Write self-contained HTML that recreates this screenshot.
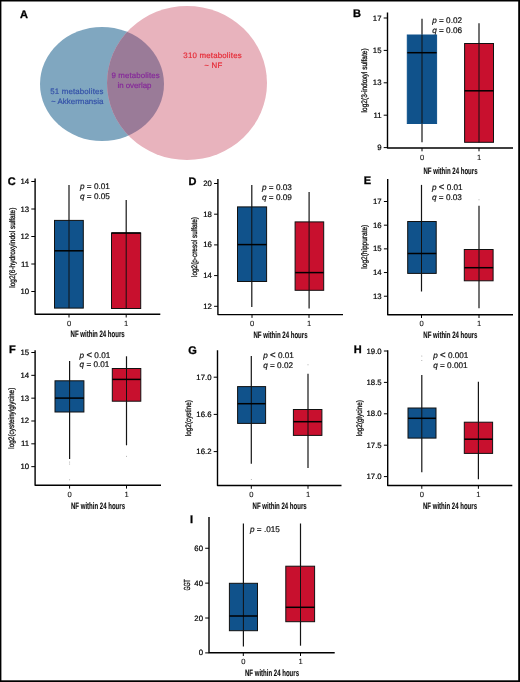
<!DOCTYPE html>
<html><head><meta charset="utf-8"><style>
html,body{margin:0;padding:0;background:#fff;width:520px;height:682px;overflow:hidden;}
svg text{font-family:"Liberation Sans", sans-serif;text-rendering:geometricPrecision;}
</style></head><body>
<svg width="520" height="682" viewBox="0 0 520 682" style="display:block;will-change:transform">
<g font-family='"Liberation Sans", sans-serif'>
<rect x="0" y="0" width="520" height="682" fill="#fff"/>
<rect x="0" y="0" width="520" height="1.5" fill="#000"/><rect x="0" y="0" width="1.4" height="682" fill="#000"/><rect x="518.2" y="0" width="1.8" height="682" fill="#000"/><rect x="0" y="680.3" width="520" height="1.7" fill="#000"/>
<defs><clipPath id="cb"><ellipse cx="102" cy="84" rx="62" ry="57"/></clipPath></defs>
<ellipse cx="102" cy="84" rx="62" ry="57" fill="#80a7c0"/>
<ellipse cx="187" cy="83" rx="80" ry="77" fill="#e8b3bd"/>
<ellipse cx="187" cy="83" rx="80" ry="77" fill="#9a7b98" clip-path="url(#cb)"/>
<text x="20" y="18.2" font-size="11" text-anchor="start" font-weight="bold" fill="#000"  stroke="#000" stroke-width="0.3" style="">A</text>
<text x="183.35" y="57.7" font-size="7.9" fill="#e62a36" stroke="#e62a36" stroke-width="0.18" textLength="58.3" lengthAdjust="spacing">310 metabolites</text>
<text x="204.15" y="67.7" font-size="7.9" fill="#e62a36" stroke="#e62a36" stroke-width="0.18" textLength="18.1" lengthAdjust="spacing">~ NF</text>
<text x="50.35" y="94.2" font-size="7.9" fill="#3350a8" stroke="#3350a8" stroke-width="0.18" textLength="53.1" lengthAdjust="spacing">51 metabolites</text>
<text x="51.05" y="104.0" font-size="7.9" fill="#3350a8" stroke="#3350a8" stroke-width="0.18" textLength="52.4" lengthAdjust="spacing">~ Akkermansia</text>
<text x="111.45" y="77.8" font-size="7.9" fill="#86299a" stroke="#86299a" stroke-width="0.18" textLength="48.2" lengthAdjust="spacing">9 metabolites</text>
<text x="117.45" y="87.6" font-size="7.9" fill="#86299a" stroke="#86299a" stroke-width="0.18" textLength="34.0" lengthAdjust="spacing">in overlap</text>
<text x="353" y="17.4" font-size="11" text-anchor="start" font-weight="bold" fill="#000"  stroke="#000" stroke-width="0.3" style="">B</text>
<path d="M387.5 12.6 L387.5 148 L513 148" fill="none" stroke="#000" stroke-width="1.4" stroke-linejoin="round"/>
<line x1="383.7" y1="18.0" x2="387.5" y2="18.0" stroke="#000" stroke-width="1"/>
<text x="381.5" y="20.5" font-size="7.8" text-anchor="end" font-weight="normal" fill="#000"  stroke="#000" stroke-width="0.2" style="">17</text>
<line x1="383.7" y1="50.4" x2="387.5" y2="50.4" stroke="#000" stroke-width="1"/>
<text x="381.5" y="52.9" font-size="7.8" text-anchor="end" font-weight="normal" fill="#000"  stroke="#000" stroke-width="0.2" style="">15</text>
<line x1="383.7" y1="82.8" x2="387.5" y2="82.8" stroke="#000" stroke-width="1"/>
<text x="381.5" y="85.3" font-size="7.8" text-anchor="end" font-weight="normal" fill="#000"  stroke="#000" stroke-width="0.2" style="">13</text>
<line x1="383.7" y1="115.19999999999999" x2="387.5" y2="115.19999999999999" stroke="#000" stroke-width="1"/>
<text x="381.5" y="117.7" font-size="7.8" text-anchor="end" font-weight="normal" fill="#000"  stroke="#000" stroke-width="0.2" style="">11</text>
<line x1="383.7" y1="147.6" x2="387.5" y2="147.6" stroke="#000" stroke-width="1"/>
<text x="381.5" y="150.1" font-size="7.8" text-anchor="end" font-weight="normal" fill="#000"  stroke="#000" stroke-width="0.2" style="">9</text>
<line x1="422" y1="148" x2="422" y2="151.3" stroke="#000" stroke-width="1"/>
<text x="422" y="159.6" font-size="7.6" text-anchor="middle" font-weight="normal" fill="#111"  stroke="#111" stroke-width="0.1" style="">0</text>
<line x1="479" y1="148" x2="479" y2="151.3" stroke="#000" stroke-width="1"/>
<text x="479" y="159.6" font-size="7.6" text-anchor="middle" font-weight="normal" fill="#111"  stroke="#111" stroke-width="0.1" style="">1</text>
<text transform="translate(367 80.4) rotate(-90)" x="0" y="0" font-size="8.0" text-anchor="middle" fill="#111" stroke="#111" stroke-width="0.3" textLength="64" lengthAdjust="spacingAndGlyphs">log2(3-indoxyl sulfate)</text>
<text x="450.5" y="173.5" font-size="9.2" text-anchor="middle" font-weight="bold" fill="#111" textLength="54" lengthAdjust="spacingAndGlyphs"  stroke="#111" stroke-width="0.15" style="">NF within 24 hours</text>
<text x="432.2" y="22.8" font-size="8.2" fill="#111" stroke="#111" stroke-width="0.2"><tspan font-style="italic">p</tspan> = 0.02</text>
<text x="432.2" y="32.7" font-size="8.2" fill="#111" stroke="#111" stroke-width="0.2"><tspan font-style="italic">q</tspan> = 0.06</text>
<line x1="422" y1="18.8" x2="422" y2="142.3" stroke="#151515" stroke-width="1.2"/>
<rect x="407.3" y="35" width="29.3" height="88.5" fill="#10528b" stroke="#10528b" stroke-width="1"/>
<line x1="422" y1="35" x2="422" y2="123.5" stroke="#111" stroke-width="1"/>
<line x1="407.3" y1="52.7" x2="436.6" y2="52.7" stroke="#000" stroke-width="1.5"/>
<line x1="479" y1="23.2" x2="479" y2="142.3" stroke="#151515" stroke-width="1.2"/>
<rect x="464.6" y="43.5" width="28.9" height="98.8" fill="#c8102e" stroke="#111" stroke-width="1"/>
<line x1="479" y1="43.5" x2="479" y2="142.3" stroke="#111" stroke-width="1"/>
<line x1="464.6" y1="90.8" x2="493.5" y2="90.8" stroke="#000" stroke-width="1.5"/>
<text x="7.8" y="184.6" font-size="11" text-anchor="start" font-weight="bold" fill="#000"  stroke="#000" stroke-width="0.3" style="">C</text>
<path d="M35.1 178.4 L35.1 314.2 L160.3 314.2" fill="none" stroke="#000" stroke-width="1.4" stroke-linejoin="round"/>
<line x1="31.3" y1="181.5" x2="35.1" y2="181.5" stroke="#000" stroke-width="1"/>
<text x="29.1" y="184.0" font-size="7.8" text-anchor="end" font-weight="normal" fill="#000"  stroke="#000" stroke-width="0.2" style="">14</text>
<line x1="31.3" y1="209.0" x2="35.1" y2="209.0" stroke="#000" stroke-width="1"/>
<text x="29.1" y="211.5" font-size="7.8" text-anchor="end" font-weight="normal" fill="#000"  stroke="#000" stroke-width="0.2" style="">13</text>
<line x1="31.3" y1="236.5" x2="35.1" y2="236.5" stroke="#000" stroke-width="1"/>
<text x="29.1" y="239.0" font-size="7.8" text-anchor="end" font-weight="normal" fill="#000"  stroke="#000" stroke-width="0.2" style="">12</text>
<line x1="31.3" y1="264.0" x2="35.1" y2="264.0" stroke="#000" stroke-width="1"/>
<text x="29.1" y="266.5" font-size="7.8" text-anchor="end" font-weight="normal" fill="#000"  stroke="#000" stroke-width="0.2" style="">11</text>
<line x1="31.3" y1="291.5" x2="35.1" y2="291.5" stroke="#000" stroke-width="1"/>
<text x="29.1" y="294.0" font-size="7.8" text-anchor="end" font-weight="normal" fill="#000"  stroke="#000" stroke-width="0.2" style="">10</text>
<line x1="69" y1="314.2" x2="69" y2="317.5" stroke="#000" stroke-width="1"/>
<text x="69" y="325.8" font-size="7.6" text-anchor="middle" font-weight="normal" fill="#111"  stroke="#111" stroke-width="0.1" style="">0</text>
<line x1="126.2" y1="314.2" x2="126.2" y2="317.5" stroke="#000" stroke-width="1"/>
<text x="126.2" y="325.8" font-size="7.6" text-anchor="middle" font-weight="normal" fill="#111"  stroke="#111" stroke-width="0.1" style="">1</text>
<text transform="translate(14.5 247.7) rotate(-90)" x="0" y="0" font-size="8.0" text-anchor="middle" fill="#111" stroke="#111" stroke-width="0.3" textLength="80" lengthAdjust="spacingAndGlyphs">log2(6-hydroxyindol sulfate)</text>
<text x="97.6" y="337.0" font-size="9.2" text-anchor="middle" font-weight="bold" fill="#111" textLength="54" lengthAdjust="spacingAndGlyphs"  stroke="#111" stroke-width="0.15" style="">NF within 24 hours</text>
<text x="80" y="189.4" font-size="8.2" fill="#111" stroke="#111" stroke-width="0.2"><tspan font-style="italic">p</tspan> = 0.01</text>
<text x="80" y="199.3" font-size="8.2" fill="#111" stroke="#111" stroke-width="0.2"><tspan font-style="italic">q</tspan> = 0.05</text>
<line x1="69" y1="185" x2="69" y2="308.1" stroke="#151515" stroke-width="1.2"/>
<rect x="54.5" y="220.4" width="28.8" height="87.7" fill="#10528b" stroke="#111" stroke-width="1"/>
<line x1="69" y1="220.4" x2="69" y2="308.1" stroke="#111" stroke-width="1"/>
<line x1="54.5" y1="250.8" x2="83.3" y2="250.8" stroke="#000" stroke-width="1.5"/>
<line x1="126.2" y1="200" x2="126.2" y2="308.5" stroke="#151515" stroke-width="1.2"/>
<rect x="111.5" y="233" width="29.2" height="75.5" fill="#c8102e" stroke="#111" stroke-width="1"/>
<line x1="126.2" y1="233" x2="126.2" y2="308.5" stroke="#111" stroke-width="1"/>
<line x1="111.5" y1="233" x2="140.7" y2="233" stroke="#000" stroke-width="1.5"/>
<text x="188.5" y="184.6" font-size="11" text-anchor="start" font-weight="bold" fill="#000"  stroke="#000" stroke-width="0.3" style="">D</text>
<path d="M217.9 178.9 L217.9 314.6 L343 314.6" fill="none" stroke="#000" stroke-width="1.4" stroke-linejoin="round"/>
<line x1="214.1" y1="183.5" x2="217.9" y2="183.5" stroke="#000" stroke-width="1"/>
<text x="211.9" y="186.0" font-size="7.8" text-anchor="end" font-weight="normal" fill="#000"  stroke="#000" stroke-width="0.2" style="">20</text>
<line x1="214.1" y1="214.2" x2="217.9" y2="214.2" stroke="#000" stroke-width="1"/>
<text x="211.9" y="216.7" font-size="7.8" text-anchor="end" font-weight="normal" fill="#000"  stroke="#000" stroke-width="0.2" style="">18</text>
<line x1="214.1" y1="244.9" x2="217.9" y2="244.9" stroke="#000" stroke-width="1"/>
<text x="211.9" y="247.4" font-size="7.8" text-anchor="end" font-weight="normal" fill="#000"  stroke="#000" stroke-width="0.2" style="">16</text>
<line x1="214.1" y1="275.6" x2="217.9" y2="275.6" stroke="#000" stroke-width="1"/>
<text x="211.9" y="278.1" font-size="7.8" text-anchor="end" font-weight="normal" fill="#000"  stroke="#000" stroke-width="0.2" style="">14</text>
<line x1="214.1" y1="306.3" x2="217.9" y2="306.3" stroke="#000" stroke-width="1"/>
<text x="211.9" y="308.8" font-size="7.8" text-anchor="end" font-weight="normal" fill="#000"  stroke="#000" stroke-width="0.2" style="">12</text>
<line x1="252" y1="314.6" x2="252" y2="317.90000000000003" stroke="#000" stroke-width="1"/>
<text x="252" y="326.2" font-size="7.6" text-anchor="middle" font-weight="normal" fill="#111"  stroke="#111" stroke-width="0.1" style="">0</text>
<line x1="309" y1="314.6" x2="309" y2="317.90000000000003" stroke="#000" stroke-width="1"/>
<text x="309" y="326.2" font-size="7.6" text-anchor="middle" font-weight="normal" fill="#111"  stroke="#111" stroke-width="0.1" style="">1</text>
<text transform="translate(196.9 247) rotate(-90)" x="0" y="0" font-size="8.0" text-anchor="middle" fill="#111" stroke="#111" stroke-width="0.3" textLength="60" lengthAdjust="spacingAndGlyphs">log2(p-cresol sulfate)</text>
<text x="280.5" y="338.2" font-size="9.2" text-anchor="middle" font-weight="bold" fill="#111" textLength="54" lengthAdjust="spacingAndGlyphs"  stroke="#111" stroke-width="0.15" style="">NF within 24 hours</text>
<text x="262" y="189.6" font-size="8.2" fill="#111" stroke="#111" stroke-width="0.2"><tspan font-style="italic">p</tspan> = 0.03</text>
<text x="262" y="199.5" font-size="8.2" fill="#111" stroke="#111" stroke-width="0.2"><tspan font-style="italic">q</tspan> = 0.09</text>
<line x1="251.8" y1="184.9" x2="251.8" y2="306.9" stroke="#151515" stroke-width="1.2"/>
<rect x="237.5" y="206.9" width="29.1" height="74.6" fill="#10528b" stroke="#111" stroke-width="1"/>
<line x1="251.8" y1="206.9" x2="251.8" y2="281.5" stroke="#111" stroke-width="1"/>
<line x1="237.5" y1="244.6" x2="266.6" y2="244.6" stroke="#000" stroke-width="1.5"/>
<line x1="309.1" y1="192" x2="309.1" y2="308.5" stroke="#151515" stroke-width="1.2"/>
<rect x="295.1" y="221.9" width="28.6" height="68.4" fill="#c8102e" stroke="#111" stroke-width="1"/>
<line x1="309.1" y1="221.9" x2="309.1" y2="290.3" stroke="#111" stroke-width="1"/>
<line x1="295.1" y1="272.6" x2="323.7" y2="272.6" stroke="#000" stroke-width="1.5"/>
<text x="363.8" y="184.20000000000002" font-size="11" text-anchor="start" font-weight="bold" fill="#000"  stroke="#000" stroke-width="0.3" style="">E</text>
<path d="M387.7 178.9 L387.7 314.7 L513 314.7" fill="none" stroke="#000" stroke-width="1.4" stroke-linejoin="round"/>
<line x1="383.9" y1="201.5" x2="387.7" y2="201.5" stroke="#000" stroke-width="1"/>
<text x="381.7" y="204.0" font-size="7.8" text-anchor="end" font-weight="normal" fill="#000"  stroke="#000" stroke-width="0.2" style="">17</text>
<line x1="383.9" y1="225.18" x2="387.7" y2="225.18" stroke="#000" stroke-width="1"/>
<text x="381.7" y="227.68" font-size="7.8" text-anchor="end" font-weight="normal" fill="#000"  stroke="#000" stroke-width="0.2" style="">16</text>
<line x1="383.9" y1="248.86" x2="387.7" y2="248.86" stroke="#000" stroke-width="1"/>
<text x="381.7" y="251.36" font-size="7.8" text-anchor="end" font-weight="normal" fill="#000"  stroke="#000" stroke-width="0.2" style="">15</text>
<line x1="383.9" y1="272.53999999999996" x2="387.7" y2="272.53999999999996" stroke="#000" stroke-width="1"/>
<text x="381.7" y="275.04" font-size="7.8" text-anchor="end" font-weight="normal" fill="#000"  stroke="#000" stroke-width="0.2" style="">14</text>
<line x1="383.9" y1="296.22" x2="387.7" y2="296.22" stroke="#000" stroke-width="1"/>
<text x="381.7" y="298.72" font-size="7.8" text-anchor="end" font-weight="normal" fill="#000"  stroke="#000" stroke-width="0.2" style="">13</text>
<line x1="421.5" y1="314.7" x2="421.5" y2="318.0" stroke="#000" stroke-width="1"/>
<text x="421.5" y="326.3" font-size="7.6" text-anchor="middle" font-weight="normal" fill="#111"  stroke="#111" stroke-width="0.1" style="">0</text>
<line x1="479" y1="314.7" x2="479" y2="318.0" stroke="#000" stroke-width="1"/>
<text x="479" y="326.3" font-size="7.6" text-anchor="middle" font-weight="normal" fill="#111"  stroke="#111" stroke-width="0.1" style="">1</text>
<text transform="translate(367 246.7) rotate(-90)" x="0" y="0" font-size="8.0" text-anchor="middle" fill="#111" stroke="#111" stroke-width="0.3" textLength="44" lengthAdjust="spacingAndGlyphs">log2(hippurate)</text>
<text x="450.3" y="338.2" font-size="9.2" text-anchor="middle" font-weight="bold" fill="#111" textLength="54" lengthAdjust="spacingAndGlyphs"  stroke="#111" stroke-width="0.15" style="">NF within 24 hours</text>
<text x="432" y="189.9" font-size="8.2" fill="#111" stroke="#111" stroke-width="0.2"><tspan font-style="italic">p</tspan> <tspan font-size="9.6" dy="0.4">&lt;</tspan><tspan dy="-0.4"> 0.01</tspan></text>
<text x="432" y="199.8" font-size="8.2" fill="#111" stroke="#111" stroke-width="0.2"><tspan font-style="italic">q</tspan> = 0.03</text>
<line x1="421.5" y1="184.9" x2="421.5" y2="291.5" stroke="#151515" stroke-width="1.2"/>
<rect x="407.7" y="221.5" width="28.5" height="51.9" fill="#10528b" stroke="#111" stroke-width="1"/>
<line x1="421.5" y1="221.5" x2="421.5" y2="273.4" stroke="#111" stroke-width="1"/>
<line x1="407.7" y1="253.5" x2="436.2" y2="253.5" stroke="#000" stroke-width="1.5"/>
<line x1="479" y1="205.8" x2="479" y2="308.2" stroke="#151515" stroke-width="1.2"/>
<rect x="464.3" y="249.5" width="28.8" height="31.3" fill="#c8102e" stroke="#111" stroke-width="1"/>
<line x1="479" y1="249.5" x2="479" y2="280.8" stroke="#111" stroke-width="1"/>
<line x1="464.3" y1="267.7" x2="493.1" y2="267.7" stroke="#000" stroke-width="1.5"/>
<circle cx="479" cy="199.7" r="0.5" fill="#999"/>
<text x="9" y="353.0" font-size="11" text-anchor="start" font-weight="bold" fill="#000"  stroke="#000" stroke-width="0.3" style="">F</text>
<path d="M35.1 350.2 L35.1 485.3 L161 485.3" fill="none" stroke="#000" stroke-width="1.4" stroke-linejoin="round"/>
<line x1="31.3" y1="352.5" x2="35.1" y2="352.5" stroke="#000" stroke-width="1"/>
<text x="29.1" y="355.0" font-size="7.8" text-anchor="end" font-weight="normal" fill="#000"  stroke="#000" stroke-width="0.2" style="">15</text>
<line x1="31.3" y1="375.33" x2="35.1" y2="375.33" stroke="#000" stroke-width="1"/>
<text x="29.1" y="377.83" font-size="7.8" text-anchor="end" font-weight="normal" fill="#000"  stroke="#000" stroke-width="0.2" style="">14</text>
<line x1="31.3" y1="398.15999999999997" x2="35.1" y2="398.15999999999997" stroke="#000" stroke-width="1"/>
<text x="29.1" y="400.66" font-size="7.8" text-anchor="end" font-weight="normal" fill="#000"  stroke="#000" stroke-width="0.2" style="">13</text>
<line x1="31.3" y1="420.99" x2="35.1" y2="420.99" stroke="#000" stroke-width="1"/>
<text x="29.1" y="423.49" font-size="7.8" text-anchor="end" font-weight="normal" fill="#000"  stroke="#000" stroke-width="0.2" style="">12</text>
<line x1="31.3" y1="443.82" x2="35.1" y2="443.82" stroke="#000" stroke-width="1"/>
<text x="29.1" y="446.32" font-size="7.8" text-anchor="end" font-weight="normal" fill="#000"  stroke="#000" stroke-width="0.2" style="">11</text>
<line x1="31.3" y1="466.65" x2="35.1" y2="466.65" stroke="#000" stroke-width="1"/>
<text x="29.1" y="469.15" font-size="7.8" text-anchor="end" font-weight="normal" fill="#000"  stroke="#000" stroke-width="0.2" style="">10</text>
<line x1="69.6" y1="485.3" x2="69.6" y2="488.6" stroke="#000" stroke-width="1"/>
<text x="69.6" y="496.9" font-size="7.6" text-anchor="middle" font-weight="normal" fill="#111"  stroke="#111" stroke-width="0.1" style="">0</text>
<line x1="126.5" y1="485.3" x2="126.5" y2="488.6" stroke="#000" stroke-width="1"/>
<text x="126.5" y="496.9" font-size="7.6" text-anchor="middle" font-weight="normal" fill="#111"  stroke="#111" stroke-width="0.1" style="">1</text>
<text transform="translate(13.6 418.2) rotate(-90)" x="0" y="0" font-size="8.0" text-anchor="middle" fill="#111" stroke="#111" stroke-width="0.3" textLength="61" lengthAdjust="spacingAndGlyphs">log2(cysteinylglycine)</text>
<text x="98" y="508.5" font-size="9.2" text-anchor="middle" font-weight="bold" fill="#111" textLength="54" lengthAdjust="spacingAndGlyphs"  stroke="#111" stroke-width="0.15" style="">NF within 24 hours</text>
<text x="79.6" y="357.5" font-size="8.2" fill="#111" stroke="#111" stroke-width="0.2"><tspan font-style="italic">p</tspan> <tspan font-size="9.6" dy="0.4">&lt;</tspan><tspan dy="-0.4"> 0.01</tspan></text>
<text x="79.6" y="367.4" font-size="8.2" fill="#111" stroke="#111" stroke-width="0.2"><tspan font-style="italic">q</tspan> = 0.01</text>
<line x1="69.6" y1="361" x2="69.6" y2="459" stroke="#151515" stroke-width="1.2"/>
<rect x="55" y="380.8" width="28.9" height="31.2" fill="#10528b" stroke="#111" stroke-width="1"/>
<line x1="69.6" y1="380.8" x2="69.6" y2="412" stroke="#111" stroke-width="1"/>
<line x1="55" y1="398.1" x2="83.9" y2="398.1" stroke="#000" stroke-width="1.5"/>
<line x1="126.5" y1="356.3" x2="126.5" y2="445.3" stroke="#151515" stroke-width="1.2"/>
<rect x="112.3" y="368.5" width="28.5" height="32.7" fill="#c8102e" stroke="#111" stroke-width="1"/>
<line x1="126.5" y1="368.5" x2="126.5" y2="401.2" stroke="#111" stroke-width="1"/>
<line x1="112.3" y1="379.4" x2="140.8" y2="379.4" stroke="#000" stroke-width="1.5"/>
<circle cx="69.6" cy="462" r="0.5" fill="#999"/>
<circle cx="69.6" cy="464" r="0.5" fill="#999"/>
<circle cx="69.6" cy="479.7" r="0.5" fill="#999"/>
<circle cx="126.5" cy="456.2" r="0.5" fill="#999"/>
<text x="188.3" y="353.59999999999997" font-size="11" text-anchor="start" font-weight="bold" fill="#000"  stroke="#000" stroke-width="0.3" style="">G</text>
<path d="M217.5 350.2 L217.5 485.5 L341.5 485.5" fill="none" stroke="#000" stroke-width="1.4" stroke-linejoin="round"/>
<line x1="213.7" y1="377.2" x2="217.5" y2="377.2" stroke="#000" stroke-width="1"/>
<text x="211.5" y="379.7" font-size="7.8" text-anchor="end" font-weight="normal" fill="#000"  stroke="#000" stroke-width="0.2" style="">17.0</text>
<line x1="213.7" y1="414.39999999999986" x2="217.5" y2="414.39999999999986" stroke="#000" stroke-width="1"/>
<text x="211.5" y="416.9" font-size="7.8" text-anchor="end" font-weight="normal" fill="#000"  stroke="#000" stroke-width="0.2" style="">16.6</text>
<line x1="213.7" y1="451.6" x2="217.5" y2="451.6" stroke="#000" stroke-width="1"/>
<text x="211.5" y="454.1" font-size="7.8" text-anchor="end" font-weight="normal" fill="#000"  stroke="#000" stroke-width="0.2" style="">16.2</text>
<line x1="251.3" y1="485.5" x2="251.3" y2="488.8" stroke="#000" stroke-width="1"/>
<text x="251.3" y="497.1" font-size="7.6" text-anchor="middle" font-weight="normal" fill="#111"  stroke="#111" stroke-width="0.1" style="">0</text>
<line x1="308" y1="485.5" x2="308" y2="488.8" stroke="#000" stroke-width="1"/>
<text x="308" y="497.1" font-size="7.6" text-anchor="middle" font-weight="normal" fill="#111"  stroke="#111" stroke-width="0.1" style="">1</text>
<text transform="translate(191 418.1) rotate(-90)" x="0" y="0" font-size="8.0" text-anchor="middle" fill="#111" stroke="#111" stroke-width="0.3" textLength="36" lengthAdjust="spacingAndGlyphs">log2(cystine)</text>
<text x="279.6" y="508.8" font-size="9.2" text-anchor="middle" font-weight="bold" fill="#111" textLength="54" lengthAdjust="spacingAndGlyphs"  stroke="#111" stroke-width="0.15" style="">NF within 24 hours</text>
<text x="263.2" y="357.6" font-size="8.2" fill="#111" stroke="#111" stroke-width="0.2"><tspan font-style="italic">p</tspan> <tspan font-size="9.6" dy="0.4">&lt;</tspan><tspan dy="-0.4"> 0.01</tspan></text>
<text x="263.2" y="367.5" font-size="8.2" fill="#111" stroke="#111" stroke-width="0.2"><tspan font-style="italic">q</tspan> = 0.02</text>
<line x1="251.3" y1="356.1" x2="251.3" y2="463.7" stroke="#151515" stroke-width="1.2"/>
<rect x="237.6" y="386.6" width="28.0" height="36.8" fill="#10528b" stroke="#111" stroke-width="1"/>
<line x1="251.3" y1="386.6" x2="251.3" y2="423.4" stroke="#111" stroke-width="1"/>
<line x1="237.6" y1="403.7" x2="265.6" y2="403.7" stroke="#000" stroke-width="1.5"/>
<line x1="308" y1="373.8" x2="308" y2="468" stroke="#151515" stroke-width="1.2"/>
<rect x="293.4" y="409.5" width="28.5" height="25.9" fill="#c8102e" stroke="#111" stroke-width="1"/>
<line x1="308" y1="409.5" x2="308" y2="435.4" stroke="#111" stroke-width="1"/>
<line x1="293.4" y1="421.7" x2="321.9" y2="421.7" stroke="#000" stroke-width="1.5"/>
<circle cx="251.3" cy="479.6" r="0.5" fill="#999"/>
<circle cx="308" cy="364.7" r="0.5" fill="#999"/>
<text x="353.8" y="353.0" font-size="11" text-anchor="start" font-weight="bold" fill="#000"  stroke="#000" stroke-width="0.3" style="">H</text>
<path d="M387.7 350.2 L387.7 485.5 L512.3 485.5" fill="none" stroke="#000" stroke-width="1.4" stroke-linejoin="round"/>
<line x1="383.9" y1="351.0" x2="387.7" y2="351.0" stroke="#000" stroke-width="1"/>
<text x="381.7" y="353.5" font-size="7.8" text-anchor="end" font-weight="normal" fill="#000"  stroke="#000" stroke-width="0.2" style="">19.0</text>
<line x1="383.9" y1="382.4" x2="387.7" y2="382.4" stroke="#000" stroke-width="1"/>
<text x="381.7" y="384.9" font-size="7.8" text-anchor="end" font-weight="normal" fill="#000"  stroke="#000" stroke-width="0.2" style="">18.5</text>
<line x1="383.9" y1="413.8" x2="387.7" y2="413.8" stroke="#000" stroke-width="1"/>
<text x="381.7" y="416.3" font-size="7.8" text-anchor="end" font-weight="normal" fill="#000"  stroke="#000" stroke-width="0.2" style="">18.0</text>
<line x1="383.9" y1="445.2" x2="387.7" y2="445.2" stroke="#000" stroke-width="1"/>
<text x="381.7" y="447.7" font-size="7.8" text-anchor="end" font-weight="normal" fill="#000"  stroke="#000" stroke-width="0.2" style="">17.5</text>
<line x1="383.9" y1="476.6" x2="387.7" y2="476.6" stroke="#000" stroke-width="1"/>
<text x="381.7" y="479.1" font-size="7.8" text-anchor="end" font-weight="normal" fill="#000"  stroke="#000" stroke-width="0.2" style="">17.0</text>
<line x1="421.8" y1="485.5" x2="421.8" y2="488.8" stroke="#000" stroke-width="1"/>
<text x="421.8" y="497.1" font-size="7.6" text-anchor="middle" font-weight="normal" fill="#111"  stroke="#111" stroke-width="0.1" style="">0</text>
<line x1="478.4" y1="485.5" x2="478.4" y2="488.8" stroke="#000" stroke-width="1"/>
<text x="478.4" y="497.1" font-size="7.6" text-anchor="middle" font-weight="normal" fill="#111"  stroke="#111" stroke-width="0.1" style="">1</text>
<text transform="translate(361.7 418.1) rotate(-90)" x="0" y="0" font-size="8.0" text-anchor="middle" fill="#111" stroke="#111" stroke-width="0.3" textLength="36" lengthAdjust="spacingAndGlyphs">log2(glycine)</text>
<text x="450" y="509.0" font-size="9.2" text-anchor="middle" font-weight="bold" fill="#111" textLength="54" lengthAdjust="spacingAndGlyphs"  stroke="#111" stroke-width="0.15" style="">NF within 24 hours</text>
<text x="433.2" y="357.6" font-size="8.2" fill="#111" stroke="#111" stroke-width="0.2"><tspan font-style="italic">p</tspan> <tspan font-size="9.6" dy="0.4">&lt;</tspan><tspan dy="-0.4"> 0.001</tspan></text>
<text x="433.2" y="367.5" font-size="8.2" fill="#111" stroke="#111" stroke-width="0.2"><tspan font-style="italic">q</tspan> = 0.001</text>
<line x1="421.8" y1="375.1" x2="421.8" y2="472.3" stroke="#151515" stroke-width="1.2"/>
<rect x="408" y="408" width="28" height="30.1" fill="#10528b" stroke="#111" stroke-width="1"/>
<line x1="421.8" y1="408" x2="421.8" y2="438.1" stroke="#111" stroke-width="1"/>
<line x1="408" y1="418.3" x2="436" y2="418.3" stroke="#000" stroke-width="1.5"/>
<line x1="478.4" y1="381.7" x2="478.4" y2="479.2" stroke="#151515" stroke-width="1.2"/>
<rect x="464.3" y="422.2" width="28.3" height="31.2" fill="#c8102e" stroke="#111" stroke-width="1"/>
<line x1="478.4" y1="422.2" x2="478.4" y2="453.4" stroke="#111" stroke-width="1"/>
<line x1="464.3" y1="439.2" x2="492.6" y2="439.2" stroke="#000" stroke-width="1.5"/>
<circle cx="421.8" cy="356.1" r="0.5" fill="#999"/>
<circle cx="421.8" cy="360.6" r="0.5" fill="#999"/>
<text x="190" y="522.6999999999999" font-size="11" text-anchor="start" font-weight="bold" fill="#000"  stroke="#000" stroke-width="0.3" style="">I</text>
<path d="M209 517.1 L209 652.7 L334.7 652.7" fill="none" stroke="#000" stroke-width="1.4" stroke-linejoin="round"/>
<line x1="205.2" y1="548.26" x2="209" y2="548.26" stroke="#000" stroke-width="1"/>
<text x="203.0" y="550.76" font-size="7.8" text-anchor="end" font-weight="normal" fill="#000"  stroke="#000" stroke-width="0.2" style="">60</text>
<line x1="205.2" y1="583.14" x2="209" y2="583.14" stroke="#000" stroke-width="1"/>
<text x="203.0" y="585.64" font-size="7.8" text-anchor="end" font-weight="normal" fill="#000"  stroke="#000" stroke-width="0.2" style="">40</text>
<line x1="205.2" y1="618.02" x2="209" y2="618.02" stroke="#000" stroke-width="1"/>
<text x="203.0" y="620.52" font-size="7.8" text-anchor="end" font-weight="normal" fill="#000"  stroke="#000" stroke-width="0.2" style="">20</text>
<line x1="205.2" y1="652.9" x2="209" y2="652.9" stroke="#000" stroke-width="1"/>
<text x="203.0" y="655.4" font-size="7.8" text-anchor="end" font-weight="normal" fill="#000"  stroke="#000" stroke-width="0.2" style="">0</text>
<line x1="243.3" y1="652.7" x2="243.3" y2="656.0" stroke="#000" stroke-width="1"/>
<text x="243.3" y="664.3" font-size="7.6" text-anchor="middle" font-weight="normal" fill="#111"  stroke="#111" stroke-width="0.1" style="">0</text>
<line x1="300.5" y1="652.7" x2="300.5" y2="656.0" stroke="#000" stroke-width="1"/>
<text x="300.5" y="664.3" font-size="7.6" text-anchor="middle" font-weight="normal" fill="#111"  stroke="#111" stroke-width="0.1" style="">1</text>
<text transform="translate(189.6 585) rotate(-90)" x="0" y="0" font-size="8.8" text-anchor="middle" fill="#111" stroke="#111" stroke-width="0.3" textLength="11.2" lengthAdjust="spacingAndGlyphs">GGT</text>
<text x="272" y="676.0" font-size="9.2" text-anchor="middle" font-weight="bold" fill="#111" textLength="54" lengthAdjust="spacingAndGlyphs"  stroke="#111" stroke-width="0.15" style="">NF within 24 hours</text>
<text x="250" y="532.3" font-size="8.2" fill="#111" stroke="#111" stroke-width="0.2"><tspan font-style="italic">p</tspan> = .015</text>
<line x1="243.4" y1="523.4" x2="243.4" y2="646.6" stroke="#151515" stroke-width="1.2"/>
<rect x="229.4" y="583.3" width="28.1" height="47.4" fill="#10528b" stroke="#111" stroke-width="1"/>
<line x1="243.4" y1="583.3" x2="243.4" y2="630.7" stroke="#111" stroke-width="1"/>
<line x1="229.4" y1="616" x2="257.5" y2="616" stroke="#000" stroke-width="1.5"/>
<line x1="300.5" y1="523.5" x2="300.5" y2="645.7" stroke="#151515" stroke-width="1.2"/>
<rect x="285.8" y="566.2" width="28.8" height="55.5" fill="#c8102e" stroke="#111" stroke-width="1"/>
<line x1="300.5" y1="566.2" x2="300.5" y2="621.7" stroke="#111" stroke-width="1"/>
<line x1="285.8" y1="607.3" x2="314.6" y2="607.3" stroke="#000" stroke-width="1.5"/>
</g></svg>
</body></html>
